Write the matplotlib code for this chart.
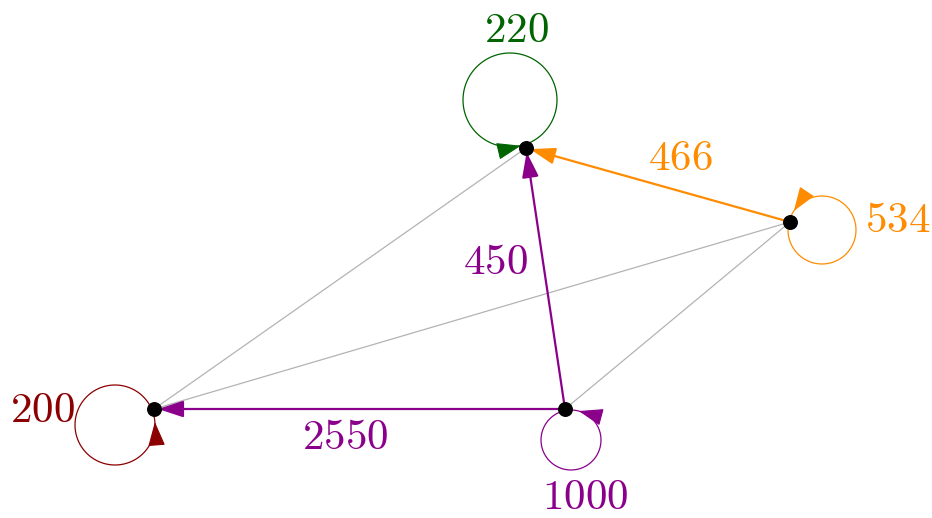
import numpy as np
import matplotlib.pyplot as plt
from matplotlib.patches import FancyArrowPatch

plt.rcParams['mathtext.fontset'] = 'cm'

# nodes (pixel positions, y downwards)
names = ["A", "B", "C", "D"]
node_x = [154, 526, 790, 565]
node_y = [409, 148, 222, 409]
node_colors = ["darkred", "darkgreen", "darkorange", "darkmagenta"]

# self loops: count, loop centre, radius
loop_counts = [200, 220, 534, 1000]
loop_cx = [115, 510, 822, 571]
loop_cy = [425, 100, 230, 440]
loop_r = [40, 47, 34, 30]
loop_arrow_offset = [18, 5, 20, 26]   # degrees before returning to node
loop_label_x = [42, 516, 898, 585]
loop_label_y = [410, 30, 220, 497]

# directed edges between nodes
edge_src = ["D", "D", "C"]
edge_dst = ["A", "B", "B"]
edge_counts = [2550, 450, 466]
edge_colors = ["darkmagenta", "darkmagenta", "darkorange"]
edge_label_x = [345, 495, 680]
edge_label_y = [437, 262, 158]

# plain connections (grey)
grey_src = ["B", "C", "C"]
grey_dst = ["A", "A", "D"]

idx = {n: i for i, n in enumerate(names)}
edge_head = "-|>,head_length=0.85,head_width=0.28"
loop_head = "-|>,head_length=0.85,head_width=0.3"

fig = plt.figure(figsize=(9.32, 5.18), dpi=100)
ax = fig.add_axes([0, 0, 1, 1])
ax.set_xlim(0, 932)
ax.set_ylim(518, 0)
ax.axis("off")

for s, d in zip(grey_src, grey_dst):
    i, j = idx[s], idx[d]
    ax.plot([node_x[i], node_x[j]], [node_y[i], node_y[j]],
            color="#b3b3b3", lw=0.9, zorder=1)

for s, d, c in zip(edge_src, edge_dst, edge_colors):
    i, j = idx[s], idx[d]
    ax.add_patch(FancyArrowPatch((node_x[i], node_y[i]), (node_x[j], node_y[j]),
                                 arrowstyle=edge_head, mutation_scale=18, color=c, lw=1.6,
                                 shrinkA=0, shrinkB=3, zorder=2))

for k, nc in enumerate(node_colors):
    cx, cy, r = loop_cx[k], loop_cy[k], loop_r[k]
    a0 = np.degrees(np.arctan2(node_y[k] - cy, node_x[k] - cx))
    t = np.radians(np.linspace(a0, a0 + 360, 200))
    ax.plot(cx + r * np.cos(t), cy + r * np.sin(t), color=nc, lw=0.9, zorder=2)
    a_tip = np.radians(a0 + loop_arrow_offset[k])
    tip = (cx + r * np.cos(a_tip), cy + r * np.sin(a_tip))
    # tangent direction of travel (decreasing angle)
    tx, ty = np.sin(a_tip), -np.cos(a_tip)
    tail = (tip[0] - 20 * tx, tip[1] - 20 * ty)
    ax.add_patch(FancyArrowPatch(tail, tip, arrowstyle=loop_head, mutation_scale=18,
                                 color=nc, lw=0.8, shrinkA=0, shrinkB=0, zorder=3))
    ax.text(loop_label_x[k], loop_label_y[k], f"${loop_counts[k]}$",
            color=nc, fontsize=31, ha="center", va="center")

for k in range(len(edge_counts)):
    ax.text(edge_label_x[k], edge_label_y[k], f"${edge_counts[k]}$",
            color=edge_colors[k], fontsize=31, ha="center", va="center")

ax.scatter(node_x, node_y, s=95, color="black", zorder=4)

fig.savefig("out.png", dpi=100)
